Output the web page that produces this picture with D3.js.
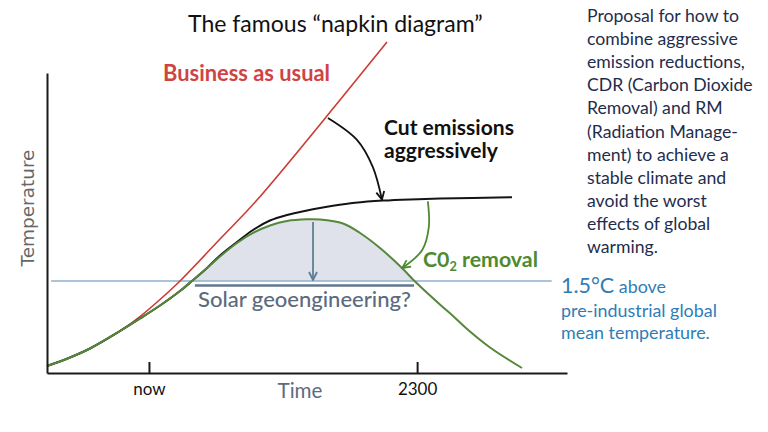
<!DOCTYPE html>
<html><head><meta charset="utf-8">
<script src="https://cdn.jsdelivr.net/npm/d3@7"></script>
<style>body{margin:0;background:#fff} svg{display:block}</style>
</head><body><svg id="c" width="768" height="432"></svg>
<script>
// ---------- data (time index 0..102, temperature index 0..100) ----------
const timeTicks = [20, 72.6];
const timeTickLabels = ["now", "2300"];

const bauT = [0, 4.51, 8.43, 14.32, 18.24, 22.17, 26.09, 33.94, 41.19, 57.47, 66.69];
const bauV = [2.33, 5.17, 8.17, 14.0, 18.83, 24.5, 30.67, 44.67, 57.67, 91, 110.33];

const cutT = [0, 4.51, 8.43, 14.32, 18.24, 22.17, 26.09, 28.44, 31.39, 33.94, 37.27, 40.41, 43.74, 47.08, 51.00, 53.55, 56.10, 60.42, 65.91, 71.2, 77.09, 91.21];
const cutV = [2.33, 5.17, 8.17, 14.0, 18.17, 22.5, 27.33, 30.67, 35, 39.17, 43.67, 47.67, 50.83, 52.67, 54.17, 55, 55.73, 56.73, 57.47, 57.87, 58.13, 58.6];

const cdrT = [0, 4.51, 8.43, 14.32, 18.24, 22.17, 26.09, 28.44, 31.39, 33.94, 37.27, 40.41, 43.74, 47.08, 51.00, 53.55, 58.06, 61.40, 65.32, 69.83, 71.99, 77.29, 79.64, 82.17, 86.90, 93.17];
const cdrV = [2.33, 5.17, 8.17, 14.0, 18.17, 22.5, 27.33, 30.67, 35, 38.83, 43.33, 46.67, 49.17, 50.67, 51.23, 51.17, 49.83, 46.67, 41.67, 34.67, 30.83, 22.5, 19, 15, 8.5, 1.67];

const levelValue = 30.67;          // 1.5 °C line
const solarBarValue = 29.17;
const solarRange = [29.0, 72.0];
const solarArrowT = 52.18, solarArrowFrom = 50.33, solarArrowTo = 31.0;

const cutArrowT = [55.1, 60.8, 63.9, 65.7];
const cutArrowV = [85.0, 77.7, 68.7, 57.8];
const cdrArrowT = [74.7, 74.9, 73.6, 69.7];
const cdrArrowV = [57.2, 48.7, 41.0, 35.0];

const titleText = "The famous \u201cnapkin diagram\u201d";
const descLines = ["Proposal for how to", "combine aggressive", "emission reductions,",
  "CDR (Carbon Dioxide", "Removal) and RM", "(Radiation Manage-", "ment) to achieve a",
  "stable climate and", "avoid the worst", "effects of global", "warming."];
const levelLines = ["pre-industrial global", "mean temperature."];

// ---------- drawing ----------
const svg = d3.select("#c");
const x = d3.scaleLinear().domain([0, 102]).range([47, 567]);
const y = d3.scaleLinear().domain([0, 100]).range([373, 73]);

function fit(sel, w) {
  const n = sel.node();
  const fs = parseFloat(sel.attr("font-size"));
  const L = n.getComputedTextLength();
  if (L > 0) sel.attr("font-size", (fs * w / L).toFixed(2));
  return sel;
}

const defs = svg.append("defs");
function marker(id, color) {
  defs.append("marker").attr("id", id).attr("viewBox", "0 0 10 10")
    .attr("refX", 9).attr("refY", 5).attr("markerWidth", 10).attr("markerHeight", 10)
    .attr("markerUnits", "userSpaceOnUse").attr("orient", "auto")
    .append("path").attr("d", "M1,1 L9,5 L1,9").attr("fill", "none")
    .attr("stroke", color).attr("stroke-width", 1.8).attr("stroke-linejoin", "miter");
}
marker("mBlack", "#111");
marker("mGreen", "#4f8a30");
marker("mSlate", "#5f7d96");

const zip = (a, b) => a.map((t, i) => [t, b[i]]);
const curve = d3.curveCatmullRom.alpha(0.5);
const line = d3.line().x(d => x(d[0])).y(d => y(d[1])).curve(curve);

// shaded area between CO2 removal curve and the 1.5 line (clipped above the line)
const cdr = zip(cdrT, cdrV);
defs.append("clipPath").attr("id", "solarClip").append("rect")
  .attr("x", x(solarRange[0])).attr("y", 0)
  .attr("width", x(solarRange[1]) - x(solarRange[0])).attr("height", y(levelValue));
svg.append("path")
  .attr("d", d3.area().x(d => x(d[0])).y0(y(levelValue)).y1(d => y(d[1])).curve(curve)(cdr))
  .attr("fill", "#dfe2eb").attr("clip-path", "url(#solarClip)");

// 1.5 °C line
svg.append("line").attr("x1", x(0.8)).attr("x2", x(99)).attr("y1", y(levelValue)).attr("y2", y(levelValue))
  .attr("stroke", "#8fb1cc").attr("stroke-width", 1.3);
// solar bar
svg.append("line").attr("x1", x(solarRange[0])).attr("x2", x(solarRange[1]))
  .attr("y1", y(solarBarValue)).attr("y2", y(solarBarValue))
  .attr("stroke", "#62778f").attr("stroke-width", 2.4);

// curves
svg.append("path").attr("d", line(zip(bauT, bauV))).attr("fill", "none")
  .attr("stroke", "#cc3b33").attr("stroke-width", 1.6);
svg.append("path").attr("d", line(zip(cutT, cutV))).attr("fill", "none")
  .attr("stroke", "#141414").attr("stroke-width", 2);
svg.append("path").attr("d", line(cdr)).attr("fill", "none")
  .attr("stroke", "#55883a").attr("stroke-width", 2);

// arrows
const aline = d3.line().x(d => x(d[0])).y(d => y(d[1])).curve(d3.curveCatmullRom);
svg.append("path").attr("d", aline(zip(cutArrowT, cutArrowV))).attr("fill", "none")
  .attr("stroke", "#111").attr("stroke-width", 1.8).attr("marker-end", "url(#mBlack)");
svg.append("path").attr("d", aline(zip(cdrArrowT, cdrArrowV))).attr("fill", "none")
  .attr("stroke", "#4f8a30").attr("stroke-width", 1.8).attr("marker-end", "url(#mGreen)");
svg.append("line").attr("x1", x(solarArrowT)).attr("x2", x(solarArrowT))
  .attr("y1", y(solarArrowFrom)).attr("y2", y(solarArrowTo))
  .attr("stroke", "#5f7d96").attr("stroke-width", 1.8).attr("marker-end", "url(#mSlate)");

// axes
const xAxis = d3.axisBottom(x).tickValues(timeTicks)
  .tickFormat((d, i) => timeTickLabels[i]).tickSizeInner(-11).tickSizeOuter(0).tickPadding(10);
const gx = svg.append("g").attr("transform", `translate(0,${y(0)})`).call(xAxis);
gx.attr("font-family", "Lato, sans-serif").attr("font-size", 17);
gx.select(".domain").attr("stroke", "#1a1a1a").attr("stroke-width", 2);
gx.selectAll(".tick line").attr("stroke", "#1a1a1a").attr("stroke-width", 2);
gx.selectAll(".tick text").attr("fill", "#111").attr("y", 10)
  .style("font-size", "17px").style("font-family", "Lato, sans-serif");

const yAxis = d3.axisLeft(y).tickValues([]).tickSizeOuter(0);
const gy = svg.append("g").attr("transform", `translate(${x(0)},0)`).call(yAxis);
gy.select(".domain").attr("stroke", "#1a1a1a").attr("stroke-width", 2);

// axis titles
fit(svg.append("text").attr("x", 300).attr("y", 398).attr("text-anchor", "middle")
  .attr("font-family", "Lato, sans-serif").attr("font-size", 18).attr("fill", "#5d6b80")
  .text("Time"), 45);
fit(svg.append("text").attr("transform", "translate(34,208) rotate(-90)").attr("text-anchor", "middle")
  .attr("font-family", "DejaVu Sans, sans-serif").attr("font-size", 17).attr("fill", "#666")
  .text("Temperature"), 117);

// annotations
fit(svg.append("text").attr("x", 163).attr("y", 81).attr("font-family", "Lato, sans-serif")
  .attr("font-weight", 700).attr("font-size", 19).attr("fill", "#d04343")
  .text("Business as usual"), 167);
const cutL = svg.append("text").attr("x", 384).attr("y", 135).attr("font-family", "Lato, sans-serif")
  .attr("font-weight", 700).attr("font-size", 18).attr("fill", "#111").text("Cut emissions");
fit(cutL, 130);
svg.append("text").attr("x", 384).attr("y", 158).attr("font-family", "Lato, sans-serif")
  .attr("font-weight", 700).attr("font-size", cutL.attr("font-size")).attr("fill", "#111").text("aggressively");

const co2 = svg.append("text").attr("x", 423).attr("y", 267).attr("font-family", "Lato, sans-serif")
  .attr("font-weight", 700).attr("font-size", 18).attr("fill", "#4f8a30");
co2.append("tspan").text("C0");
co2.append("tspan").attr("font-size", "60%").attr("dy", 4).text("2");
co2.append("tspan").attr("dy", -4).text(" removal");
fit(co2, 115);

fit(svg.append("text").attr("x", 198).attr("y", 307).attr("font-family", "Lato, sans-serif")
  .attr("font-weight", 500).attr("font-size", 18).attr("fill", "#5c6a7e")
  .text("Solar geoengineering?"), 213);

// title
fit(svg.append("text").attr("x", 188).attr("y", 32).attr("font-family", "Lato, sans-serif")
  .attr("font-size", 22).attr("fill", "#111").text(titleText), 295);

// right description block
const desc = svg.append("text").attr("font-family", "Lato, sans-serif").attr("font-size", 16).attr("fill", "#1f2d4d");
desc.selectAll("tspan").data(descLines).join("tspan")
  .attr("x", 587).attr("y", (d, i) => 22 + i * 23.1).text(d => d);
{
  const first = desc.select("tspan").node();
  const L = first.getComputedTextLength();
  desc.attr("font-size", (16 * 152 / L).toFixed(2));
}

// 1.5 °C label block
const lvl = svg.append("text").attr("x", 561).attr("y", 293).attr("font-family", "Lato, sans-serif")
  .attr("fill", "#2f7db6").attr("font-size", 16);
const big = lvl.append("tspan").attr("font-size", 19).text("1.5\u00b0C");
lvl.append("tspan").text(" above");
const lvl2 = svg.append("text").attr("font-family", "Lato, sans-serif").attr("fill", "#2f7db6").attr("font-size", 16);
lvl2.selectAll("tspan").data(levelLines).join("tspan").attr("x", 561).attr("y", (d, i) => 317 + i * 22).text(d => d);
{
  const L = lvl2.select("tspan").node().getComputedTextLength();
  const fs = 16 * 156 / L;
  lvl2.attr("font-size", fs.toFixed(2));
  lvl.attr("font-size", fs.toFixed(2));
  big.attr("font-size", (fs * 1.2).toFixed(2));
}
</script></body></html>
